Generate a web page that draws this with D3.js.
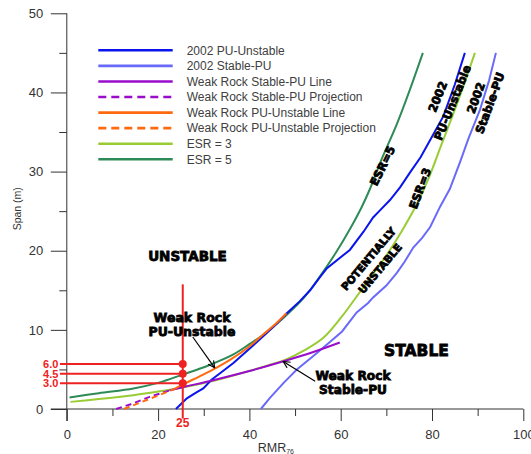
<!DOCTYPE html>
<html>
<head>
<meta charset="utf-8">
<script src="https://cdn.jsdelivr.net/npm/d3@7"></script>
<style>
  body { margin: 0; background: #fff; }
  svg text { font-family: 'Liberation Sans', Arial, sans-serif; }
  .tick text { font-size: 13px; fill: #333; }
  .tick line, .axis-line { stroke: #333; stroke-width: 1; }
  .legend text { font-size: 12px; fill: #404040; }
  .zone { font-family: 'DejaVu Sans', sans-serif; font-weight: bold; fill: #000; stroke: #000; stroke-width: .8px; }
  .red-label { fill: #ee2222; font-weight: bold; font-size: 11px; }
</style>
</head>
<body>
<div id="chart"></div>
<script>
// values: [RMR76, span]
var esr5 = [[0.6,1.45],[7,2.0],[14.6,2.6],[20,3.3],[25.4,4.35],[31,5.5],[36.5,6.9],[40,8.2],[43.8,9.7],[48.2,11.9],[52,14.1],[55.5,16.8],[59,19.8],[62,22.7],[64.5,25.4],[66.4,27.8],[69,31.6],[72.3,36.0],[75,40.1],[78,45]];
var esr3 = [[0.8,0.9],[7,1.25],[14.6,1.75],[20,2.2],[23.3,2.5],[31,3.4],[38.7,4.6],[44,5.5],[48.2,6.3],[52,7.4],[56.2,9.0],[60,11.5],[63.1,13.9],[67,17.0],[70,19.4],[73.5,22.6],[76.6,25.8],[79.5,29.5],[81.8,33.0],[84,36.3],[86.5,40.2],[89.4,45]];
var puUnstable2002 = [[23.9,0],[26.3,1.35],[28.4,2.1],[29.9,2.6],[31.7,3.7],[34,4.7],[36.5,5.8],[40,7.6],[43.8,9.6],[46,10.8],[48.2,12.1],[51,13.6],[53.3,15.0],[55.5,16.7],[57,17.8],[62.0,20.1],[65,22.4],[67.1,24.2],[68.6,25.1],[70.8,26.4],[73,28.0],[75.2,29.9],[77.5,31.8],[79.6,34.0],[82.5,37.0],[85,41],[87.2,45]];
var stablePu2002 = [[42.5,0],[44.5,1.4],[47.5,3.3],[50.4,5.0],[54,6.7],[57.7,8.5],[60.3,9.8],[63.5,12.2],[66,13.4],[67.1,14.1],[70,15.6],[72.3,17.2],[74,18.6],[75.9,20.4],[77.8,21.6],[79.6,23.0],[81.8,25.6],[83.9,27.8],[86.2,31.3],[88,34.2],[90.5,37.8],[92.5,41.5],[94.0,45]];
var weakStableLine = [[22.5,2.35],[25.4,2.75],[32.5,3.7],[40,4.8],[47.3,6.0],[54,7.2],[59.8,8.4]];
var weakStableProj = [[10.8,0],[14,0.6],[18,1.5],[22.5,2.35]];
var weakUnstableLine = [[23.5,2.5],[25.4,3.1],[29,4.1],[32.1,5.0],[36,6.3],[40,7.9],[43,9.4],[46,10.9],[48.1,12.1]];
var weakUnstableProj = [[12.5,0],[16,0.8],[20,1.7],[23.5,2.5]];

var rmrPick = 25.4;
var redSpans = [5.7, 4.45, 3.25];
var redLabels = ["6.0", "4.5", "3.0"];
var redTop = 15.75;

var xMajor = [0, 20, 40, 60, 80, 100];
var xMinor = [10, 30, 50, 70, 90];
var yMajor = [0, 10, 20, 30, 40, 50];
var yMinor = [5, 15, 25, 35, 45];

var legendNames = ["2002 PU-Unstable", "2002 Stable-PU", "Weak Rock Stable-PU Line", "Weak Rock Stable-PU Projection",
  "Weak Rock PU-Unstable Line", "Weak Rock PU-Unstable Projection", "ESR = 3", "ESR = 5"];
var legendColors = ["#0a14ec", "#6a6afa", "#9a0ccc", "#9a0ccc", "#ff6a10", "#ff6a10", "#99cc33", "#2e8b57"];
var legendDashed = [false, false, false, true, false, true, false, false];

// annotations: centre in data units, rotation, lines
var notes = [
  {x: 26.44, y: 19.36, rot: 0, size: 13.5, gap: 0, lines: ["UNSTABLE"]},
  {x: 76.6, y: 7.45, rot: 0, size: 15.5, gap: 0, lines: ["STABLE"]},
  {x: 27.43, y: 10.68, rot: 0, size: 12.5, gap: 14.4, lines: ["Weak Rock", "PU-Unstable"]},
  {x: 62.7, y: 3.29, rot: 0, size: 12.2, gap: 14, lines: ["Weak Rock", "Stable-PU"]},
  {x: 69.15, y: 30.73, rot: -64, size: 11.5, gap: 0, lines: ["ESR=5"]},
  {x: 77.37, y: 27.88, rot: -70, size: 11.5, gap: 0, lines: ["ESR=3"]},
  {x: 67.34, y: 18.35, rot: -50, size: 10.5, gap: 15, lines: ["POTENTIALLY", "UNSTABLE"]},
  {x: 82.85, y: 39.09, rot: -68, size: 11.5, gap: 16, lines: ["2002", "PU-Unstable"]},
  {x: 91.15, y: 38.99, rot: -70, size: 11.5, gap: 15, lines: ["2002", "Stable-PU"]}
];
var arrows = [
  {from: [27.6, 9.1], to: [32.4, 5.2]},
  {from: [54.4, 3.5], to: [47.4, 6.0]}
];

var width = 531, height = 454;
var svg = d3.select("#chart").append("svg")
  .attr("width", width)
  .attr("height", height);

var x = d3.scaleLinear().domain([0, 100]).range([66.8, 523.3]);
var y = d3.scaleLinear().domain([0, 50]).range([409, 13.3]);

// axes
var xAxis = svg.append("g").attr("transform", "translate(0," + y(0) + ")");
xAxis.append("g").call(d3.axisBottom(x).tickValues(xMajor).tickSize(12).tickPadding(9).tickFormat(d3.format("d")));
xAxis.append("g").call(d3.axisBottom(x).tickValues(xMinor).tickSize(7).tickFormat(""));
var yAxis = svg.append("g").attr("transform", "translate(" + x(0) + ",0)");
yAxis.append("g").call(d3.axisLeft(y).tickValues(yMajor).tickSize(16).tickPadding(7.5).tickFormat(d3.format("d")));
yAxis.append("g").call(d3.axisLeft(y).tickValues(yMinor).tickSize(7.5).tickFormat(""));
svg.selectAll(".domain").remove();
svg.append("line").attr("class", "axis-line")
  .attr("x1", x(-3.5)).attr("x2", x(100)).attr("y1", y(0)).attr("y2", y(0));
svg.append("line").attr("class", "axis-line")
  .attr("x1", x(0)).attr("x2", x(0)).attr("y1", y(50)).attr("y2", y(0) + 12);

svg.append("text")
  .attr("transform", "translate(17.5," + y(25.3) + ") rotate(-90)")
  .attr("text-anchor", "middle").attr("dy", "0.35em")
  .style("font-size", "10.5px").style("fill", "#333")
  .text("Span (m)");
var xl = svg.append("text")
  .attr("x", x(45.8)).attr("y", 452)
  .attr("text-anchor", "middle")
  .style("font-size", "12.5px").style("fill", "#333");
xl.append("tspan").text("RMR");
xl.append("tspan").attr("dy", 2).style("font-size", "7px").text("76");

// curves
var line = d3.line().x(function(d) { return x(d[0]); }).y(function(d) { return y(d[1]); });
var smooth = d3.line().curve(d3.curveCatmullRom).x(function(d) { return x(d[0]); }).y(function(d) { return y(d[1]); });

function draw(data, color, gen, dash) {
  svg.append("path").datum(data)
    .attr("d", gen)
    .attr("fill", "none")
    .attr("stroke", color)
    .attr("stroke-width", 2)
    .attr("stroke-dasharray", dash || null);
}
draw(esr5, legendColors[7], smooth);
draw(esr3, legendColors[6], smooth);
draw(stablePu2002, legendColors[1], line);
draw(puUnstable2002, legendColors[0], line);
draw(weakStableProj, legendColors[3], line, "6,4");
draw(weakStableLine, legendColors[2], smooth);
draw(weakUnstableProj, legendColors[5], line, "6,4");
draw(weakUnstableLine, legendColors[4], smooth);

// legend
var legend = svg.append("g").attr("class", "legend");
legendNames.forEach(function(name, i) {
  var ly = 50.3 + i * 15.57;
  legend.append("line")
    .attr("x1", 98.3).attr("x2", 172.7).attr("y1", ly).attr("y2", ly)
    .attr("stroke", legendColors[i]).attr("stroke-width", 2.6)
    .attr("stroke-dasharray", legendDashed[i] ? "8,5" : null);
  legend.append("text")
    .attr("x", 186.7).attr("y", ly).attr("dy", "0.36em")
    .text(name);
});

// red pick lines
var red = "#ee2222";
svg.append("line")
  .attr("x1", x(rmrPick)).attr("x2", x(rmrPick))
  .attr("y1", y(redTop)).attr("y2", y(-1.2))
  .attr("stroke", red).attr("stroke-width", 2);
redSpans.forEach(function(s, i) {
  svg.append("line")
    .attr("x1", x(-1.5)).attr("x2", x(rmrPick))
    .attr("y1", y(s)).attr("y2", y(s))
    .attr("stroke", red).attr("stroke-width", 2);
  svg.append("circle")
    .attr("cx", x(rmrPick)).attr("cy", y(s)).attr("r", 4)
    .attr("fill", red);
  svg.append("text").attr("class", "red-label")
    .attr("x", x(-1.85)).attr("y", y(s)).attr("dy", "0.36em")
    .attr("text-anchor", "end")
    .text(redLabels[i]);
});
svg.append("text").attr("class", "red-label")
  .attr("x", x(rmrPick)).attr("y", y(-1.78)).attr("dy", "0.36em")
  .attr("text-anchor", "middle")
  .style("font-size", "12px")
  .text("25");

// annotations
svg.append("defs").append("marker")
  .attr("id", "arrow").attr("viewBox", "0 0 10 10")
  .attr("refX", 9).attr("refY", 5)
  .attr("markerWidth", 7).attr("markerHeight", 7)
  .attr("orient", "auto")
  .append("path").attr("d", "M1,1 L9,5 L1,9")
  .attr("fill", "none").attr("stroke", "#000").attr("stroke-width", 1.3);
arrows.forEach(function(a) {
  svg.append("line")
    .attr("x1", x(a.from[0])).attr("y1", y(a.from[1]))
    .attr("x2", x(a.to[0])).attr("y2", y(a.to[1]))
    .attr("stroke", "#000").attr("stroke-width", 1.2)
    .attr("marker-end", "url(#arrow)");
});

notes.forEach(function(n) {
  var g = svg.append("g")
    .attr("transform", "translate(" + x(n.x) + "," + y(n.y) + ") rotate(" + n.rot + ")");
  n.lines.forEach(function(t, i) {
    g.append("text").attr("class", "zone")
      .attr("y", (i - (n.lines.length - 1) / 2) * n.gap)
      .attr("dy", "0.36em")
      .attr("text-anchor", "middle")
      .style("font-size", n.size + "px")
      .text(t);
  });
});
</script>
</body>
</html>
